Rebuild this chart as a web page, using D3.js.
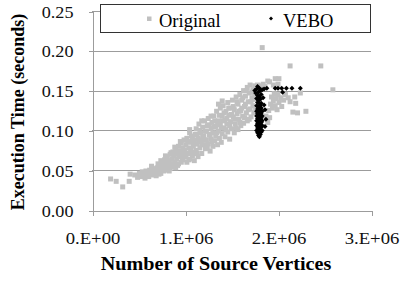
<!DOCTYPE html>
<html>
<head>
<meta charset="utf-8">
<script src="https://cdn.jsdelivr.net/npm/d3@7"></script>
<style>
html, body { margin: 0; padding: 0; background: #fff; }
svg { display: block; }
</style>
</head>
<body>
<script>
var width = 407, height = 283;

// [source vertices in millions, execution time in seconds]
var originalPoints = [
  [0.20,0.039],[0.26,0.036],[0.33,0.029],[0.40,0.036],[0.41,0.045],
  [0.46,0.044],[0.49,0.041],[0.51,0.046],[0.53,0.042],[0.54,0.048],[0.56,0.044],[0.57,0.040],[0.58,0.049],
  [0.60,0.045],[0.61,0.042],[0.62,0.050],[0.63,0.047],[0.65,0.044],[0.66,0.052],[0.67,0.048],[0.68,0.045],
  [0.70,0.053],[0.70,0.047],[0.71,0.058],[0.72,0.050],[0.73,0.055],[0.74,0.046],[0.75,0.060],[0.76,0.052],
  [0.76,0.057],[0.77,0.049],[0.78,0.063],[0.79,0.054],[0.80,0.058],[0.80,0.050],
  [0.81,0.066],[0.82,0.055],[0.83,0.061],[0.84,0.070],[0.84,0.052],[0.85,0.058],[0.86,0.064],[0.87,0.073],
  [0.87,0.056],[0.88,0.068],[0.89,0.060],[0.90,0.076],[0.90,0.053],
  [0.91,0.064],[0.92,0.071],[0.93,0.058],[0.93,0.080],[0.94,0.067],[0.95,0.074],[0.96,0.060],[0.96,0.084],
  [0.97,0.070],[0.98,0.078],[0.98,0.063],[0.99,0.088],[1.00,0.067],[1.00,0.075],
  [1.01,0.082],[1.02,0.060],[1.02,0.090],[1.03,0.071],[1.04,0.078],[1.05,0.097],[1.05,0.064],[1.06,0.085],
  [1.07,0.073],[1.07,0.093],[1.08,0.068],[1.09,0.080],[1.10,0.088],[1.10,0.062],
  [1.11,0.095],[1.12,0.075],[1.12,0.102],[1.13,0.083],[1.14,0.067],[1.14,0.090],[1.15,0.108],[1.16,0.078],
  [1.17,0.097],[1.17,0.086],[1.18,0.071],[1.19,0.104],[1.20,0.082],[1.20,0.093],
  [1.21,0.112],[1.22,0.077],[1.22,0.099],[1.23,0.088],[1.24,0.106],[1.25,0.083],[1.25,0.115],[1.26,0.094],
  [1.27,0.074],[1.28,0.102],[1.28,0.089],[1.29,0.110],[1.30,0.080],[1.30,0.097],
  [1.31,0.118],[1.32,0.087],[1.33,0.105],[1.33,0.093],[1.34,0.124],[1.35,0.082],[1.36,0.112],[1.36,0.099],
  [1.37,0.090],[1.38,0.128],[1.38,0.107],[1.39,0.085],[1.40,0.118],[1.40,0.096],
  [1.41,0.131],[1.42,0.103],[1.43,0.113],[1.43,0.092],[1.44,0.124],[1.45,0.108],[1.46,0.135],[1.46,0.098],
  [1.47,0.119],[1.48,0.089],[1.49,0.128],[1.49,0.111],[1.50,0.102],
  [1.51,0.138],[1.52,0.117],[1.53,0.097],[1.53,0.126],[1.54,0.108],[1.55,0.142],[1.56,0.121],[1.57,0.101],
  [1.57,0.133],[1.58,0.114],[1.59,0.145],[1.60,0.125],[1.60,0.106],
  [1.61,0.138],[1.62,0.118],[1.63,0.150],[1.63,0.109],[1.64,0.130],[1.65,0.143],[1.66,0.122],[1.67,0.154],
  [1.67,0.112],[1.68,0.136],[1.69,0.147],[1.70,0.127],[1.70,0.157],[1.71,0.117],[1.72,0.141],[1.73,0.151],
  [1.73,0.131],[1.74,0.122],[1.75,0.156],[1.75,0.145],
  [0.64,0.055],[0.69,0.043],[0.72,0.045],[0.74,0.062],[0.78,0.052],[0.79,0.068],[0.82,0.062],[0.83,0.049],
  [0.85,0.072],[0.86,0.054],[0.88,0.058],[0.89,0.079],[0.91,0.070],[0.92,0.056],[0.94,0.074],[0.95,0.086],
  [0.97,0.065],[0.99,0.072],[1.01,0.069],[1.03,0.086],[1.04,0.063],[1.06,0.076],[1.08,0.090],[1.09,0.071],
  [1.11,0.083],[1.13,0.095],[1.13,0.071],[1.15,0.088],[1.16,0.100],[1.18,0.082],[1.19,0.092],[1.21,0.088],
  [1.23,0.099],[1.24,0.079],[1.26,0.107],[1.27,0.095],[1.29,0.086],[1.31,0.104],[1.32,0.112],[1.34,0.097],
  [1.35,0.108],[1.37,0.119],[1.39,0.103],[1.41,0.112],[1.42,0.122],[1.44,0.101],[1.45,0.115],[1.47,0.128],
  [1.48,0.106],[1.50,0.120],[1.52,0.130],[1.54,0.114],[1.55,0.103],[1.56,0.136],[1.58,0.124],[1.59,0.110],
  [1.61,0.128],[1.62,0.141],[1.64,0.116],[1.65,0.133],[1.66,0.150],[1.68,0.126],[1.69,0.114],[1.71,0.136],
  [1.72,0.148],[1.74,0.139],[1.76,0.150],[1.76,0.128],
  [1.36,0.133],[1.40,0.137],[1.28,0.118],[1.18,0.112],[1.05,0.101],
  [1.78,0.157],[1.82,0.156],[1.86,0.155],[1.84,0.158],
  [1.87,0.118],[1.89,0.110],[1.90,0.125],[1.91,0.116],[1.92,0.133],[1.93,0.142],[1.94,0.128],[1.95,0.137],
  [1.96,0.146],[1.97,0.131],[1.98,0.140],[1.99,0.126],[2.00,0.145],[2.01,0.135],[2.03,0.141],[2.04,0.130],
  [2.06,0.138],[2.08,0.145],[2.11,0.141],[2.13,0.136],[2.16,0.123],[2.18,0.142],[2.19,0.134],[2.21,0.122],
  [2.24,0.147],[2.30,0.124],
  [1.91,0.161],[1.97,0.165],[2.01,0.165],[2.00,0.158],[1.95,0.157],[1.89,0.162],
  [1.83,0.204],[2.13,0.181],[2.46,0.181],[2.59,0.151]
];

var veboPoints = [
  [1.80,0.092],[1.79,0.094],[1.81,0.095],[1.78,0.097],[1.80,0.097],[1.82,0.098],[1.77,0.100],[1.79,0.100],
  [1.81,0.101],[1.83,0.100],[1.78,0.103],[1.80,0.103],[1.82,0.104],[1.77,0.106],[1.79,0.106],[1.81,0.107],
  [1.83,0.106],[1.78,0.109],[1.80,0.109],[1.82,0.110],[1.77,0.112],[1.79,0.112],[1.81,0.113],[1.83,0.112],
  [1.78,0.115],[1.80,0.115],[1.82,0.116],[1.77,0.118],[1.79,0.118],[1.81,0.119],[1.83,0.118],[1.78,0.121],
  [1.80,0.121],[1.82,0.122],[1.77,0.124],[1.79,0.124],[1.81,0.125],[1.83,0.124],[1.78,0.127],[1.80,0.127],
  [1.82,0.128],[1.79,0.130],[1.81,0.131],[1.77,0.131],[1.80,0.134],[1.78,0.135],[1.82,0.134],[1.79,0.138],
  [1.81,0.139],[1.77,0.140],[1.80,0.142],[1.78,0.144],[1.82,0.145],[1.76,0.147],[1.79,0.148],[1.81,0.150],
  [1.75,0.150],[1.77,0.152],[1.80,0.153],[1.83,0.151],[1.78,0.155],[1.85,0.152],
  [1.88,0.153],[1.97,0.153],[2.00,0.153],[2.04,0.153],[2.09,0.153],[2.15,0.153],[2.24,0.153],[2.05,0.148],
  [1.86,0.126],[1.87,0.114],[1.86,0.105],[1.85,0.132],[1.84,0.141]
];

var seriesNames = ["Original", "VEBO"];
var yTicks = [0, 0.05, 0.10, 0.15, 0.20, 0.25];
var yTickLabels = ["0.00", "0.05", "0.10", "0.15", "0.20", "0.25"];
var xTicks = [0, 1e6, 2e6, 3e6];
var xTickLabels = ["0.E+00", "1.E+06", "2.E+06", "3.E+06"];
var xTitle = "Number of Source Vertices";
var yTitle = "Execution Time (seconds)";

var serif = "'Liberation Serif', 'Times New Roman', serif";
var gridColor = "#9c9c9c";
var grayColor = "#c0c0c0";

var svg = d3.select("body").append("svg")
    .attr("width", width)
    .attr("height", height);

var x = d3.scaleLinear().domain([0, 3e6]).range([92, 371]);
var y = d3.scaleLinear().domain([0, 0.25]).range([210, 11]);

// grid
svg.append("g").selectAll("line")
    .data(yTicks.slice(1))
    .enter().append("line")
    .attr("x1", x(0)).attr("x2", x(3e6))
    .attr("y1", function(d) { return Math.round(y(d)) + 0.5; })
    .attr("y2", function(d) { return Math.round(y(d)) + 0.5; })
    .attr("stroke", gridColor);

// y axis
var yAxis = svg.append("g")
    .attr("transform", "translate(" + (x(0) + 0.5) + ",0.5)")
    .call(d3.axisLeft(y).tickValues(yTicks).tickSize(4).tickSizeOuter(0)
        .tickFormat(function(d, i) { return yTickLabels[i]; }));
yAxis.select(".domain").attr("stroke", gridColor);
yAxis.selectAll(".tick line").attr("stroke", gridColor);
yAxis.selectAll(".tick text")
    .attr("x", null).attr("dy", null)
    .attr("transform", "translate(-19,5.5) scale(1.07,1)")
    .style("font-family", serif).style("font-size", "17px").attr("fill", "#111");

// x axis
var xAxis = svg.append("g")
    .attr("transform", "translate(0.5," + (Math.round(y(0)) + 0.5) + ")")
    .call(d3.axisBottom(x).tickValues(xTicks).tickSize(5).tickSizeOuter(0)
        .tickFormat(function(d, i) { return xTickLabels[i]; }));
xAxis.select(".domain").attr("stroke", gridColor);
xAxis.selectAll(".tick line").attr("stroke", gridColor);
xAxis.selectAll(".tick text")
    .attr("y", null).attr("dy", null)
    .attr("transform", "translate(0,33) scale(1.1,1)")
    .style("font-family", serif).style("font-size", "17px").attr("fill", "#111");
svg.selectAll(".tick line, .domain").attr("shape-rendering", "crispEdges");

// points
svg.append("g").selectAll("rect")
    .data(originalPoints)
    .enter().append("rect")
    .attr("x", function(d) { return x(d[0] * 1e6) - 2.5; })
    .attr("y", function(d) { return y(d[1]) - 2.5; })
    .attr("width", 5).attr("height", 5)
    .attr("fill", grayColor);

var diamond = "M0,-2.5L2.5,0L0,2.5L-2.5,0Z";
svg.append("g").selectAll("path")
    .data(veboPoints)
    .enter().append("path")
    .attr("d", diamond)
    .attr("transform", function(d) { return "translate(" + x(d[0] * 1e6) + "," + y(d[1]) + ")"; })
    .attr("fill", "#000");

// legend
var legend = svg.append("g");
legend.append("rect")
    .attr("x", 100.5).attr("y", 4.5).attr("width", 270).attr("height", 28)
    .attr("fill", "#fff").attr("stroke", "#333");
legend.append("rect")
    .attr("x", 147).attr("y", 16.5).attr("width", 4.5).attr("height", 4.5)
    .attr("fill", grayColor);
legend.append("path")
    .attr("d", diamond)
    .attr("transform", "translate(271,18.5) scale(0.8)")
    .attr("fill", "#000");
legend.selectAll("text")
    .data(seriesNames)
    .enter().append("text")
    .attr("x", function(d, i) { return i === 0 ? 159 : 283; })
    .attr("y", 26.5)
    .style("font-family", serif).style("font-size", "18.5px")
    .attr("fill", "#000")
    .text(function(d) { return d; });

// axis titles
svg.append("text")
    .attr("transform", "translate(216,270) scale(1.12,1)")
    .attr("text-anchor", "middle")
    .style("font-family", serif).style("font-size", "18px").style("font-weight", "bold")
    .text(xTitle);

svg.append("text")
    .attr("transform", "translate(23.5,112) rotate(-90)")
    .attr("text-anchor", "middle")
    .style("font-family", serif).style("font-size", "18px").style("font-weight", "bold")
    .text(yTitle);
</script>
</body>
</html>
